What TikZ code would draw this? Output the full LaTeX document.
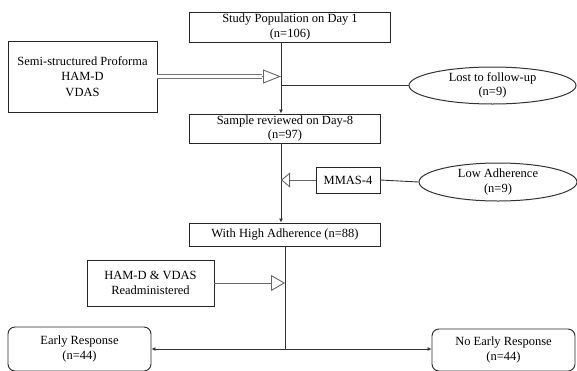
\documentclass[tikz,border=0pt]{standalone}
\usepackage{fontspec}
\setmainfont{Liberation Serif}
\usetikzlibrary{arrows.meta,shapes.geometric}
\begin{document}
\begin{tikzpicture}[x=1pt,y=-1pt,
  every node/.style={font=\fontsize{12.5}{14.5}\selectfont, align=center, inner sep=0pt},
  box/.style={draw=black!85, line width=0.9pt, rectangle},
  rbox/.style={draw=black!85, line width=0.9pt, rectangle, rounded corners=7pt},
  oval/.style={draw=black!80, line width=1pt, ellipse},
  conn/.style={draw=black!80, line width=0.9pt},
  smallarrow/.style={conn, -{Latex[length=4pt,width=4pt]}},
  opentri/.style args={#1/#2}{draw=black!60, line width=0.9pt, -{Triangle[open, length=#1pt, width=#2pt, fill=white]}},
  dbl/.style={draw=black!55, line width=1pt, double=white, double distance=2.2pt}
]
\useasboundingbox[fill=white] (0,0) rectangle (577,370);

\node[box, minimum width=201pt, minimum height=30pt] (study) at (290,27) {Study Population on Day 1\\(n=106)};
\node[box, minimum width=149pt, minimum height=71pt] (semi) at (82.5,76.5) {Semi-structured Proforma\\[1pt]HAM-D\\[1pt]VDAS};
\node[oval, minimum width=167pt, minimum height=37pt] (lost) at (492.5,85.5) {Lost to follow-up\\(n=9)};
\node[box, minimum width=191pt, minimum height=29pt] (sample) at (285,128.5) {Sample reviewed on Day-8\\(n=97)};
\node[box, minimum width=64pt, minimum height=26pt] (mmas) at (348,180) {MMAS-4};
\node[oval, minimum width=158pt, minimum height=38pt] (low) at (498,182) {Low Adherence\\(n=9)};
\node[box, minimum width=191pt, minimum height=23pt] (high) at (285,234.5) {With High Adherence (n=88)};
\node[box, minimum width=127pt, minimum height=46pt] (hamd) at (150.5,283) {HAM-D \& VDAS\\Readministered};
\node[rbox, minimum width=143pt, minimum height=44pt] (early) at (79.5,349) {Early Response\\(n=44)};
\node[rbox, minimum width=143pt, minimum height=42pt] (noearly) at (503.5,350) {No Early Response\\(n=44)};

\coordinate (spine) at (281,0);
\coordinate (spineb) at (285,0);
\coordinate (j) at (285,349);

\draw[smallarrow] (study.south -| spine) -- (sample.north -| spine);
\draw[opentri=18/14] (semi.east) -- (semi.east -| spine);
\draw[dbl] (semi.east) -- ++(105,0);
\draw[conn] (spine |- lost.west) -- (lost.west);

\draw[smallarrow] (sample.south -| spine) -- (high.north -| spine);
\draw[opentri=9/15] (mmas.west) -- (mmas.west -| spine);
\draw[conn] (mmas.east) -- (low.west);

\draw[conn] (high.south -| spineb) -- (j);
\draw[opentri=14/16] (hamd.east) -- (hamd.east -| spineb);
\draw[smallarrow] (j) -- (early.east |- j);
\draw[smallarrow] (j) -- (noearly.west |- j);
\end{tikzpicture}
\end{document}
